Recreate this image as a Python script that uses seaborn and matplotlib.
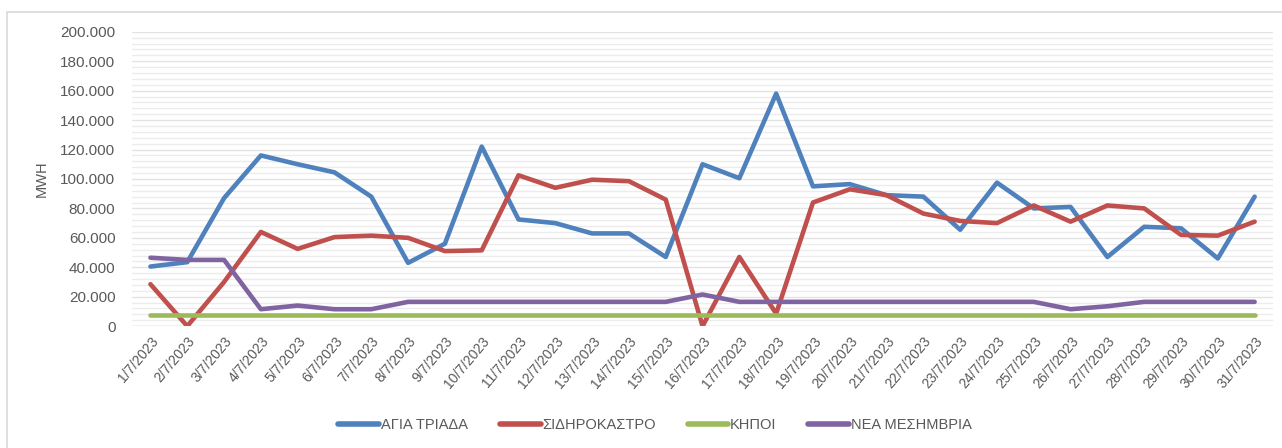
import numpy as np
import pandas as pd
import matplotlib
matplotlib.use('Agg')
import matplotlib.pyplot as plt
import matplotlib.ticker as mticker
import seaborn as sns

# daily energy per station, July 2023 (MWH)
days = [f'{d}/7/2023' for d in range(1, 32)]
agia_triada = [40500, 43500, 87000, 116000, 110000, 104500, 88000, 43000, 56000, 122000,
               72500, 70000, 63000, 63000, 47000, 110000, 100500, 158000, 95000, 96500,
               89000, 88000, 65500, 97500, 80000, 81000, 47000, 67500, 66500, 46000, 88000]
sidirokastro = [28500, 0, 30000, 64000, 52500, 60500, 61500, 60000, 51000, 51500,
                102500, 94000, 99500, 98500, 86000, 0, 47000, 8500, 84000, 93000,
                89000, 76500, 71500, 70000, 82000, 71000, 82000, 80000, 62000, 61500, 71000]
kipoi = [7500] * 31
nea_mesimvria = [46500, 45000, 45000, 11500, 14000, 11500, 11500, 16500, 16500, 16500,
                 16500, 16500, 16500, 16500, 16500, 21500, 16500, 16500, 16500, 16500,
                 16500, 16500, 16500, 16500, 16500, 11500, 13500, 16500, 16500, 16500, 16500]

series = {'ΑΓΙΑ ΤΡΙΑΔΑ': agia_triada, 'ΣΙΔΗΡΟΚΑΣΤΡΟ': sidirokastro,
          'ΚΗΠΟΙ': kipoi, 'ΝΕΑ ΜΕΣΗΜΒΡΙΑ': nea_mesimvria}
colors = ['#4F81BD', '#C0504D', '#9BBB59', '#8064A2']

df = pd.concat([pd.DataFrame({'day': np.arange(len(days)), 'value': v, 'station': k})
                for k, v in series.items()], ignore_index=True)

sns.set_style('white')
plt.rcParams['font.family'] = ['Liberation Sans', 'DejaVu Sans']

fig = plt.figure(figsize=(12.82, 4.48), dpi=100)
ax = fig.add_axes([0.103, 0.272, 0.890, 0.657])

# outer chart border
fig.patches.append(plt.Rectangle((7 / 1282, -0.1), 1.2, 1 - 12 / 448 + 0.1,
                                 transform=fig.transFigure, fill=False,
                                 edgecolor='#D9D9D9', linewidth=1.2))

sns.lineplot(data=df, x='day', y='value', hue='station', palette=colors,
             linewidth=3.3, ax=ax, legend=True, solid_capstyle='round')

ax.set_xlim(-0.5, len(days) - 0.5)
ax.set_ylim(0, 200000)
ax.yaxis.set_major_locator(mticker.MultipleLocator(20000))
ax.yaxis.set_minor_locator(mticker.MultipleLocator(4000))
ax.yaxis.set_major_formatter(mticker.FuncFormatter(
    lambda v, p: '0' if v == 0 else f'{int(v):,}'.replace(',', '.')))
ax.grid(which='major', axis='y', color='#E3E3E3', linewidth=1)
ax.grid(which='minor', axis='y', color='#ECECEC', linewidth=1)
ax.set_axisbelow(True)
ax.axhline(0, color='#D9D9D9', linewidth=1, zorder=1)

ax.set_xticks(np.arange(len(days)))
ax.set_xticklabels(days, rotation=50, ha='right', rotation_mode='anchor',
                   fontsize=10, color='#595959')
ax.tick_params(axis='y', labelsize=11, labelcolor='#595959', length=0, pad=12)
ax.tick_params(axis='x', length=0, pad=6)
for s in ax.spines.values():
    s.set_visible(False)

ax.set_xlabel('')
ax.set_ylabel('MWH', fontsize=10.5, color='#595959', labelpad=8)

leg = ax.legend(loc='center', bbox_to_anchor=(655 / 1282, 1 - 425 / 448),
                bbox_transform=fig.transFigure, ncol=4, frameon=False,
                fontsize=10.5, handlelength=2.8, columnspacing=2.2, handletextpad=0.1)
for t in leg.get_texts():
    t.set_color('#595959')
for h in leg.get_lines():
    h.set_linewidth(4)

fig.savefig('out.png', dpi=100)
